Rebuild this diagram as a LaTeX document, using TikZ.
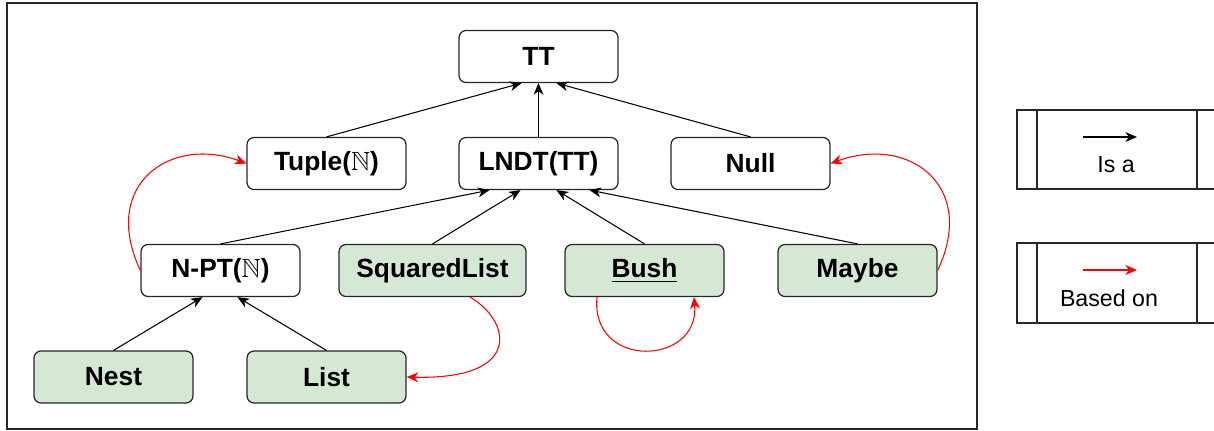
\documentclass[tikz,border=0pt]{standalone}
\usepackage{fontspec}
\setmainfont{Liberation Sans}
\usepackage{amssymb}
\usetikzlibrary{calc,arrows.meta}
\definecolor{dtgreen}{HTML}{D5E8D4}
\tikzset{
	typebox/.style={draw=black!85, line width=0.7pt, rounded corners=4pt, minimum width=3.18cm, minimum height=1.04cm, inner sep=0pt, font=\bfseries\fontsize{15}{17}\selectfont},
	datatype/.style={typebox, fill=dtgreen},
	isa/.style={-{Stealth[length=6.6pt,width=5.6pt,inset=2pt]}, line width=0.6pt, black},
	basedon/.style={isa, red},
	legendtext/.style={font=\fontsize{13.2}{16}\selectfont, inner sep=0pt}
}

\begin{document}
\begin{tikzpicture}[x=0.02cm, y=-0.02cm]
		%%%%% START %%%%%
		\useasboundingbox (0, 0) rectangle (1214, 430);
		
		\draw[line width=0.7pt, color=black!85] (7, 3) rectangle (977, 429);
		
		\node[typebox] (tt) at (538.5, 56.5) {TT};
		
		\node[typebox] (tuple) at (326.5, 163.5) {Tuple($\mathbb{N}$)};
		\node[typebox] (lndt) at (538.5, 163.5) {LNDT(TT)};
		\node[typebox] (null) at (750.5, 163.5) {Null};
		
		\node[typebox] (npt) at (220.5, 270.5) {N-PT($\mathbb{N}$)};
		\node[datatype, minimum width=3.74cm] (sqlist) at (432.5, 270.5) {SquaredList};
		\node[datatype] (bush) at (644.5, 270.5) {\underline{Bush}};
		\node[datatype] (maybe) at (857.5, 270.5) {Maybe};
		
		\node[datatype] (nest) at (113.5, 377) {Nest};
		\node[datatype] (list) at (326.5, 377) {List};
		
		% is a
		\draw[isa] (tuple.north) -- ($(tt.south)+(-17, 0)$);
		\draw[isa] (lndt.north) -- (tt.south);
		\draw[isa] (null.north) -- ($(tt.south)+(18, 0)$);
		
		\draw[isa] (npt.north) -- ($(lndt.south)+(-49, 0)$);
		\draw[isa] (sqlist.north) -- ($(lndt.south)+(-18, 0)$);
		\draw[isa] (bush.north) -- ($(lndt.south)+(18, 0)$);
		\draw[isa] (maybe.north) -- ($(lndt.south)+(51, 0)$);
		
		\draw[isa] (nest.north) -- ($(npt.south)+(-18, 0)$);
		\draw[isa] (list.north) -- ($(npt.south)+(17, 0)$);
		
		% based on
		\draw[basedon] (npt.west) .. controls (100, 185) and (170, 135) .. (tuple.west);
		\draw[basedon] (maybe.east) .. controls (978, 185) and (908, 135) .. (null.east);
		\draw[basedon] ($(sqlist.south)+(37.5, 0)$) .. controls (510, 320) and (525, 380) .. (list.east);
		\draw[basedon] ($(bush.south)+(-47.5, 0)$) .. controls (590, 370) and (700, 366) .. ($(bush.south)+(49.5, 0)$);
		
		% legend
		\draw[line width=0.7pt, color=black!85] (1017, 110) rectangle (1240, 189);
		\draw[line width=0.7pt, color=black!85] (1037, 110) -- (1037, 189);
		\draw[line width=0.7pt, color=black!85] (1197, 110) -- (1197, 189);
		\coordinate (isafrom) at (1083, 137);
		\coordinate (isato) at (1137, 137);
		\draw[isa] (isafrom) -- (isato);
		\node[legendtext] (isatext) at (1116, 165) {Is a};
		
		\draw[line width=0.7pt, color=black!85] (1017, 243) rectangle (1240, 323);
		\draw[line width=0.7pt, color=black!85] (1037, 243) -- (1037, 323);
		\draw[line width=0.7pt, color=black!85] (1197, 243) -- (1197, 323);
		\coordinate (basedfrom) at (1083, 270);
		\coordinate (basedto) at (1137, 270);
		\draw[basedon] (basedfrom) -- (basedto);
		\node[legendtext] (basedtext) at (1109, 298) {Based on};
		
		%%%%% END %%%%%
	\end{tikzpicture}
\end{document}
